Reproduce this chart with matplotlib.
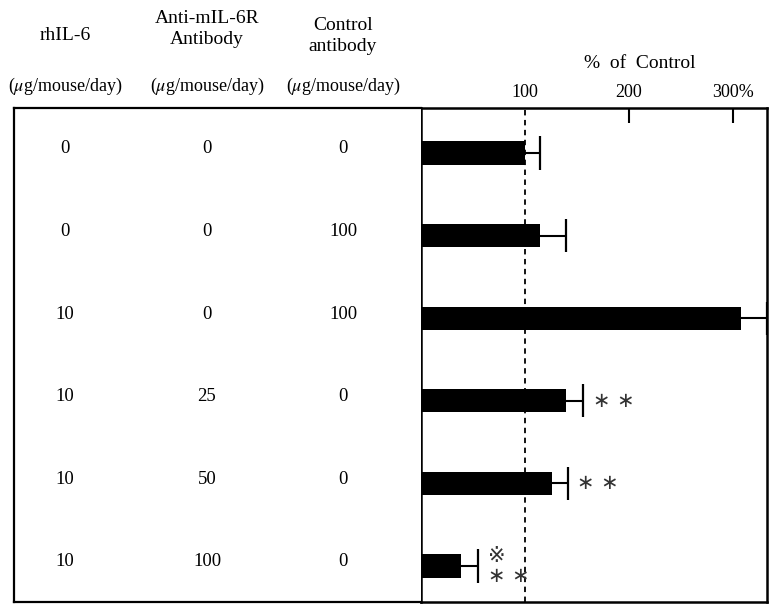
import matplotlib
matplotlib.use('Agg')
import matplotlib.pyplot as plt
import numpy as np

plt.rcParams['font.family'] = ['Liberation Serif', 'DejaVu Serif']
plt.rcParams['mathtext.fontset'] = 'stix'

# doses (ug/mouse/day) for each group
rhil6 = ['0', '0', '10', '10', '10', '10']
anti_il6r = ['0', '0', '0', '25', '50', '100']
control_ab = ['0', '100', '100', '0', '0', '0']

# % of control, mean and upper error
means = [100, 114, 308, 139, 126, 38]
errs = [14, 25, 25, 17, 15, 17]
marks = ['', '', '', '∗ ∗', '∗ ∗', '※\n∗ ∗']

col_titles = ['rhIL-6', 'Anti-mIL-6R\nAntibody', 'Control\nantibody']
unit = '($\\mu$g/mouse/day)'
xticks = [100, 200, 300]
xticklabels = ['100', '200', '300%']

W, H = 770, 609
fig = plt.figure(figsize=(W / 100, H / 100), dpi=100)

# pixel layout
box_l, box_r, box_t, box_b = 14, 767, 108, 602
div_x = 421
px_per_100 = 104
row_gap = 82.6
top_pad, bot_pad = 45, 36

def fx(px):
    return px / W

def fy(py):
    return 1 - py / H

n = len(means)
y = np.arange(n)
ylim = (n - 1 + bot_pad / row_gap, -top_pad / row_gap)
tops = np.array(means) + np.array(errs)

# bar panel
ax = fig.add_axes([fx(div_x), fy(box_b), fx(box_r - div_x), (box_b - box_t) / H])
ax.barh(y, means, height=0.28, color='black', zorder=2)
ax.hlines(y, means, tops, color='black', lw=1.5, zorder=2)
ax.vlines(tops, y - 0.2, y + 0.2, color='black', lw=1.6, zorder=2)
ax.axvline(100, color='black', lw=1.3, linestyle=(0, (3, 2.5)), zorder=3)
for i in range(n):
    if marks[i]:
        ax.annotate(marks[i], (tops[i], y[i]), xytext=(7, 0),
                    textcoords='offset points', ha='left', va='center',
                    fontsize=15, family=['DejaVu Sans', 'Noto Sans CJK JP'],
                    linespacing=1.0, color='#333333')
ax.set_xlim(0, (box_r - div_x) / (px_per_100 / 100))
ax.set_ylim(*ylim)
ax.set_yticks([])
ax.xaxis.tick_top()
ax.set_xticks(xticks)
ax.set_xticklabels(xticklabels, fontsize=13)
ax.tick_params(axis='x', direction='in', length=11, width=1.5, pad=5)
ax.xaxis.get_major_ticks()[0].tick2line.set_visible(False)
for s in ax.spines.values():
    s.set_linewidth(1.8)

# dose table panel
tab = fig.add_axes([fx(box_l), fy(box_b), fx(div_x - box_l), (box_b - box_t) / H])
tab.set_xlim(box_l, div_x)
tab.set_ylim(*ylim)
tab.set_xticks([])
tab.set_yticks([])
for s in tab.spines.values():
    s.set_linewidth(1.6)
tab.spines['right'].set_visible(False)

col_x = [65, 207, 343]
for cx, col in zip(col_x, [rhil6, anti_il6r, control_ab]):
    for i, v in enumerate(col):
        tab.text(cx, y[i] - 0.05, v, ha='center', va='center', fontsize=13.5)

# headers
title_y = [35, 29, 36]
for cx, t, ty in zip(col_x, col_titles, title_y):
    fig.text(fx(cx), fy(ty), t, ha='center', va='center', fontsize=14,
             linespacing=1.25)
    fig.text(fx(cx), fy(86), unit, ha='center', va='center', fontsize=13)

fig.text(fx(640), fy(63), '%  of  Control', ha='center', va='center', fontsize=14)

fig.savefig('out.png', dpi=100)
